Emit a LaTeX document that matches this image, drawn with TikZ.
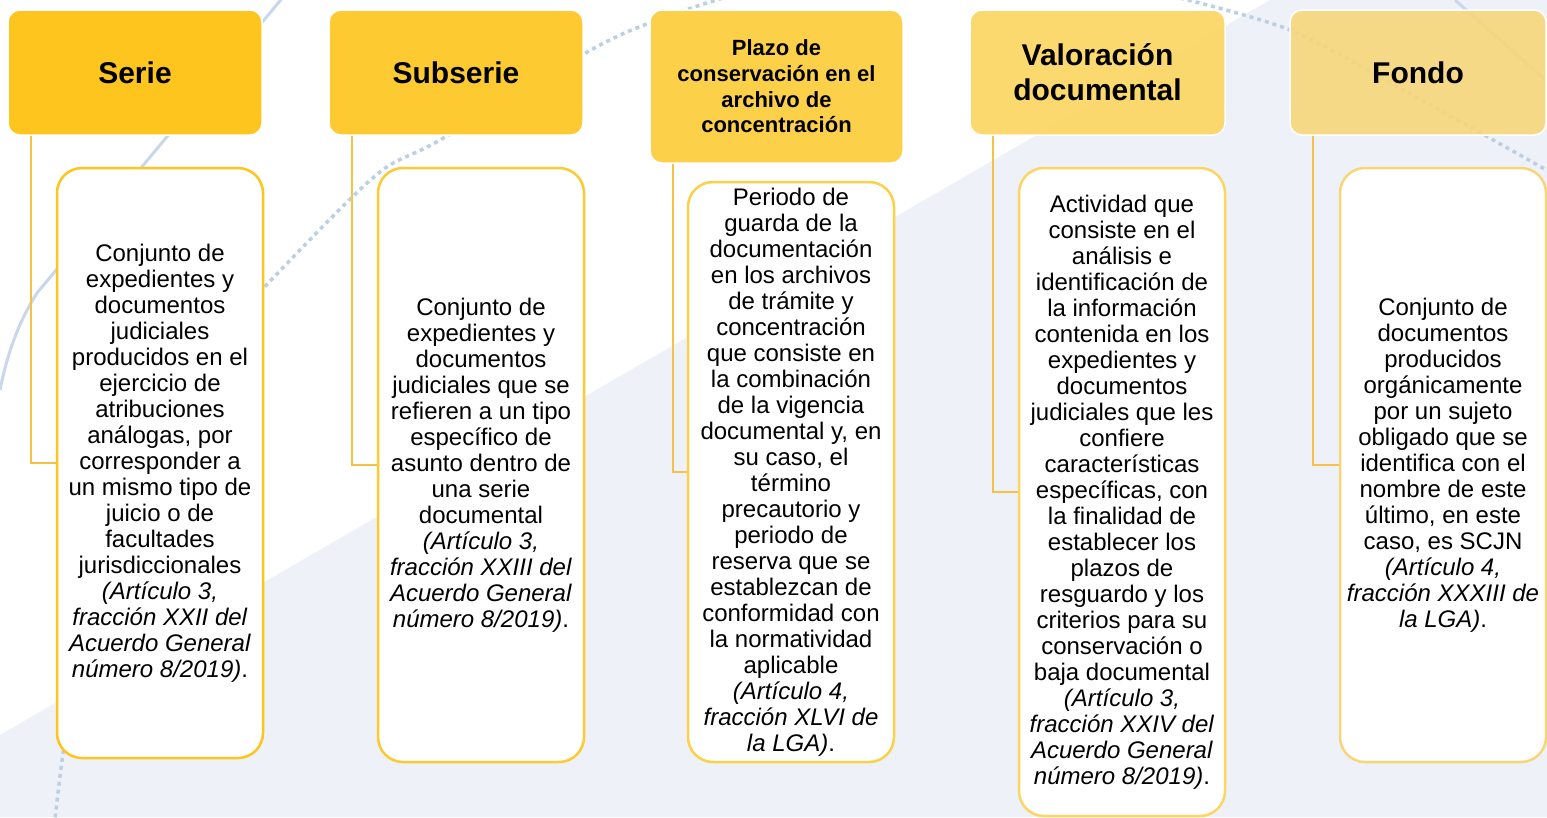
\documentclass[tikz,border=0pt]{standalone}
\usepackage{fontspec}
\setmainfont{Liberation Sans}
\begin{document}
\begin{tikzpicture}[x=1pt,y=-1pt,
  head/.style={draw=white,line width=1.5pt,rounded corners=12pt,align=center,font=\bfseries\fontsize{30}{35}\selectfont,inner sep=0pt},
  body/.style={fill=white,line width=2.5pt,rounded corners=25pt,align=center,inner sep=0pt,minimum width=206pt,font=\fontsize{24}{26}\selectfont},
  conn/.style={draw=connc,line width=2pt},
  deco/.style={draw=decoc,line width=3.5pt,dash pattern=on 4pt off 4pt},
  decol/.style={draw=decol,line width=3pt}]
\definecolor{bggrey}{HTML}{EEF2F8}
\definecolor{decoc}{HTML}{BCCFE3}
\definecolor{decol}{HTML}{C8D8EA}
\definecolor{connc}{HTML}{F7C04A}
\definecolor{hA}{HTML}{FDC51D}
\definecolor{hB}{HTML}{FDCA32}
\definecolor{hC}{HTML}{FDD049}
\definecolor{hD}{HTML}{FCD663}
\definecolor{hE}{HTML}{F8D677}
\useasboundingbox (0,0) rectangle (1547,817);
\fill[white] (0,0) rectangle (1547,817);
\fill[bggrey] (0,735) -- (1270,0) -- (1547,0) -- (1547,817) -- (0,817) -- cycle;
% decorations
\draw[decol] (284,-4) -- (37,293) .. controls (20,320) and (8,350) .. (0,390);
\draw[decol] (1455,0) -- (1550,84);
\draw[deco] plot[smooth] coordinates {(730,-4) (680,12) (600,45) (440,140) (380,172) (300,250) (200,360) (130,480) (90,600) (65,740) (55,820)};
\draw[deco] plot[smooth] coordinates {(1180,-2) (1290,30) (1400,88) (1550,172)};
% headers
\node[head,fill=hA,minimum width=254pt,minimum height=125pt] (h1) at (135,72.5) {Serie};
\node[head,fill=hB,minimum width=254pt,minimum height=125pt] (h2) at (456,72.5) {Subserie};
\node[head,fill=hC,minimum width=253pt,minimum height=153pt,font=\bfseries\fontsize{22}{25.7}\selectfont] (h3) at (776.5,86.5) {Plazo de\\conservación en el\\archivo de\\concentración};
\node[head,fill=hD,fill opacity=0.92,text opacity=1,minimum width=255pt,minimum height=125pt] (h4) at (1097.5,72.5) {Valoración\\documental};
\node[head,fill=hE,fill opacity=0.88,text opacity=1,minimum width=256pt,minimum height=125pt] (h5) at (1418,72.5) {Fondo};
% bodies
\node[body,draw=hA,minimum height=590pt] (b1) at (160,463) {Conjunto de\\expedientes y\\documentos\\judiciales\\producidos en el\\ejercicio de\\atribuciones\\análogas, por\\corresponder a\\un mismo tipo de\\juicio o de\\facultades\\jurisdiccionales\\\textit{(Artículo 3,}\\\textit{fracción XXII del}\\\textit{Acuerdo General}\\\textit{número 8/2019)}.};
\node[body,draw=hB,minimum height=594pt] (b2) at (481,465) {Conjunto de\\expedientes y\\documentos\\judiciales que se\\refieren a un tipo\\específico de\\asunto dentro de\\una serie\\documental\\\textit{(Artículo 3,}\\\textit{fracción XXIII del}\\\textit{Acuerdo General}\\\textit{número 8/2019)}.};
\node[body,draw=hC,minimum height=580pt] (b3) at (791,472) {Periodo de\\guarda de la\\documentación\\en los archivos\\de trámite y\\concentración\\que consiste en\\la combinación\\de la vigencia\\documental y, en\\su caso, el\\término\\precautorio y\\periodo de\\reserva que se\\establezcan de\\conformidad con\\la normatividad\\aplicable\\\textit{(Artículo 4,}\\\textit{fracción XLVI de}\\\textit{la LGA)}.};
\node[body,draw=hD,minimum height=648pt] (b4) at (1122,492) {Actividad que\\consiste en el\\análisis e\\identificación de\\la información\\contenida en los\\expedientes y\\documentos\\judiciales que les\\confiere\\características\\específicas, con\\la finalidad de\\establecer los\\plazos de\\resguardo y los\\criterios para su\\conservación o\\baja documental\\\textit{(Artículo 3,}\\\textit{fracción XXIV del}\\\textit{Acuerdo General}\\\textit{número 8/2019)}.};
\node[body,draw=hE,minimum height=594pt] (b5) at (1443,465) {Conjunto de\\documentos\\producidos\\orgánicamente\\por un sujeto\\obligado que se\\identifica con el\\nombre de este\\último, en este\\caso, es SCJN\\\textit{(Artículo 4,}\\\textit{fracción XXXIII de}\\\textit{la LGA)}.};
% connectors
\draw[conn] ([xshift=24pt]h1.south west) |- (b1.west);
\draw[conn] ([xshift=24pt]h2.south west) |- (b2.west);
\draw[conn] ([xshift=24pt]h3.south west) |- (b3.west);
\draw[conn] ([xshift=24pt]h4.south west) |- (b4.west);
\draw[conn] ([xshift=24pt]h5.south west) |- (b5.west);
\end{tikzpicture}
\end{document}
